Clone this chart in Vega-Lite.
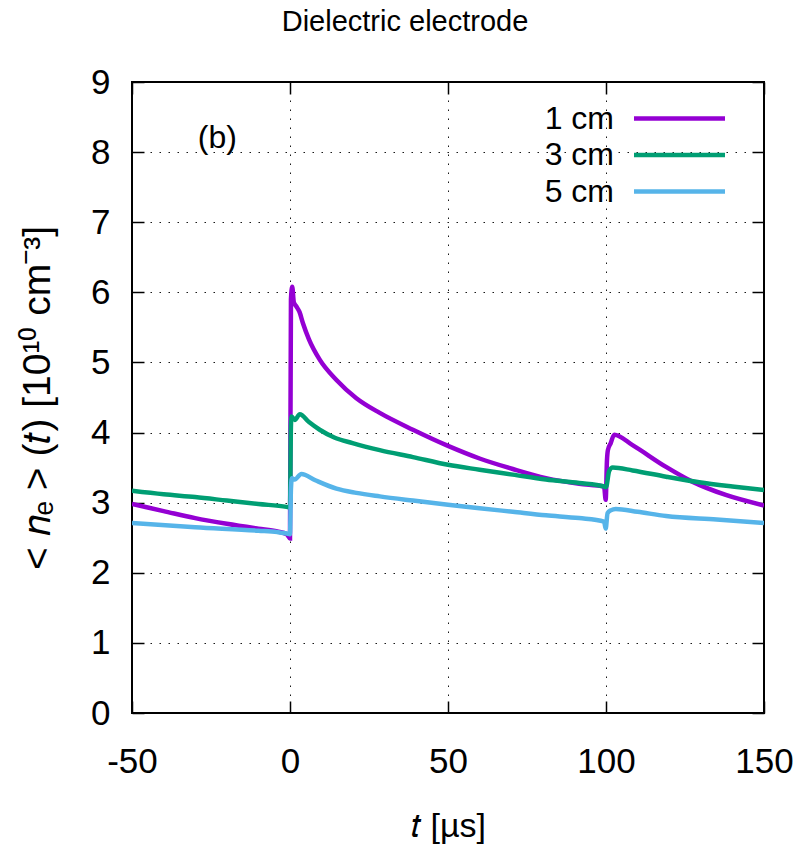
{
  "$schema": "https://vega.github.io/schema/vega-lite/v6.json",
  "width": 632,
  "height": 631,
  "autosize": {"type": "none"},
  "padding": {"left": 132, "top": 82, "right": 32, "bottom": 137},
  "background": "white",
  "title": {"text": "Dielectric electrode", "fontSize": 29, "font": "Liberation Sans", "fontWeight": "normal", "color": "black", "anchor": "middle", "frame": "group", "offset": 28, "dx": -43},
  "datasets": {
    "lines": [
      {"t": -50, "v": 2.98, "s": "1 cm"}, {"t": -40, "v": 2.88, "s": "1 cm"}, {"t": -30, "v": 2.78, "s": "1 cm"}, {"t": -20, "v": 2.70, "s": "1 cm"}, {"t": -10, "v": 2.63, "s": "1 cm"}, {"t": -4, "v": 2.59, "s": "1 cm"}, {"t": -1, "v": 2.55, "s": "1 cm"}, {"t": 0, "v": 2.49, "s": "1 cm"}, {"t": 0.3, "v": 5.9, "s": "1 cm"}, {"t": 0.7, "v": 6.08, "s": "1 cm"}, {"t": 1.2, "v": 5.86, "s": "1 cm"}, {"t": 2.0, "v": 5.80, "s": "1 cm"}, {"t": 3.0, "v": 5.72, "s": "1 cm"}, {"t": 4.1, "v": 5.56, "s": "1 cm"}, {"t": 6, "v": 5.33, "s": "1 cm"}, {"t": 9.4, "v": 5.04, "s": "1 cm"}, {"t": 14.7, "v": 4.75, "s": "1 cm"}, {"t": 21, "v": 4.49, "s": "1 cm"}, {"t": 28.4, "v": 4.28, "s": "1 cm"}, {"t": 38.9, "v": 4.04, "s": "1 cm"}, {"t": 50, "v": 3.81, "s": "1 cm"}, {"t": 60, "v": 3.63, "s": "1 cm"}, {"t": 70.5, "v": 3.48, "s": "1 cm"}, {"t": 81, "v": 3.35, "s": "1 cm"}, {"t": 91.5, "v": 3.27, "s": "1 cm"}, {"t": 99.4, "v": 3.23, "s": "1 cm"}, {"t": 99.9, "v": 3.04, "s": "1 cm"}, {"t": 100.3, "v": 3.6, "s": "1 cm"}, {"t": 100.6, "v": 3.75, "s": "1 cm"}, {"t": 101.5, "v": 3.85, "s": "1 cm"}, {"t": 102.6, "v": 3.97, "s": "1 cm"}, {"t": 108.4, "v": 3.82, "s": "1 cm"}, {"t": 119, "v": 3.51, "s": "1 cm"}, {"t": 127.3, "v": 3.30, "s": "1 cm"}, {"t": 137.9, "v": 3.11, "s": "1 cm"}, {"t": 150, "v": 2.96, "s": "1 cm"},
      {"t": -50, "v": 3.17, "s": "3 cm"}, {"t": -40, "v": 3.12, "s": "3 cm"}, {"t": -30, "v": 3.08, "s": "3 cm"}, {"t": -20, "v": 3.03, "s": "3 cm"}, {"t": -10, "v": 2.98, "s": "3 cm"}, {"t": -1.1, "v": 2.94, "s": "3 cm"}, {"t": 0, "v": 2.93, "s": "3 cm"}, {"t": 0.3, "v": 4.1, "s": "3 cm"}, {"t": 0.5, "v": 4.23, "s": "3 cm"}, {"t": 1.5, "v": 4.18, "s": "3 cm"}, {"t": 3.1, "v": 4.26, "s": "3 cm"}, {"t": 6, "v": 4.15, "s": "3 cm"}, {"t": 9.4, "v": 4.04, "s": "3 cm"}, {"t": 14, "v": 3.93, "s": "3 cm"}, {"t": 19.8, "v": 3.85, "s": "3 cm"}, {"t": 28.4, "v": 3.75, "s": "3 cm"}, {"t": 38.9, "v": 3.65, "s": "3 cm"}, {"t": 50, "v": 3.54, "s": "3 cm"}, {"t": 60, "v": 3.47, "s": "3 cm"}, {"t": 70.5, "v": 3.40, "s": "3 cm"}, {"t": 81, "v": 3.33, "s": "3 cm"}, {"t": 91.5, "v": 3.28, "s": "3 cm"}, {"t": 99.4, "v": 3.23, "s": "3 cm"}, {"t": 100, "v": 3.22, "s": "3 cm"}, {"t": 101, "v": 3.45, "s": "3 cm"}, {"t": 102.1, "v": 3.50, "s": "3 cm"}, {"t": 108.4, "v": 3.46, "s": "3 cm"}, {"t": 119, "v": 3.37, "s": "3 cm"}, {"t": 129.5, "v": 3.29, "s": "3 cm"}, {"t": 140, "v": 3.23, "s": "3 cm"}, {"t": 150, "v": 3.18, "s": "3 cm"},
      {"t": -50, "v": 2.71, "s": "5 cm"}, {"t": -30, "v": 2.65, "s": "5 cm"}, {"t": -10, "v": 2.60, "s": "5 cm"}, {"t": -4, "v": 2.58, "s": "5 cm"}, {"t": -1, "v": 2.56, "s": "5 cm"}, {"t": 0, "v": 2.55, "s": "5 cm"}, {"t": 0.3, "v": 3.2, "s": "5 cm"}, {"t": 0.6, "v": 3.35, "s": "5 cm"}, {"t": 1.5, "v": 3.33, "s": "5 cm"}, {"t": 3.6, "v": 3.41, "s": "5 cm"}, {"t": 8, "v": 3.32, "s": "5 cm"}, {"t": 14.7, "v": 3.20, "s": "5 cm"}, {"t": 21, "v": 3.14, "s": "5 cm"}, {"t": 28.4, "v": 3.09, "s": "5 cm"}, {"t": 38.9, "v": 3.03, "s": "5 cm"}, {"t": 50, "v": 2.97, "s": "5 cm"}, {"t": 60, "v": 2.92, "s": "5 cm"}, {"t": 70.5, "v": 2.87, "s": "5 cm"}, {"t": 81, "v": 2.82, "s": "5 cm"}, {"t": 91.5, "v": 2.78, "s": "5 cm"}, {"t": 99.4, "v": 2.73, "s": "5 cm"}, {"t": 99.9, "v": 2.63, "s": "5 cm"}, {"t": 100.5, "v": 2.85, "s": "5 cm"}, {"t": 101.5, "v": 2.89, "s": "5 cm"}, {"t": 103.1, "v": 2.91, "s": "5 cm"}, {"t": 110, "v": 2.87, "s": "5 cm"}, {"t": 119, "v": 2.81, "s": "5 cm"}, {"t": 135, "v": 2.76, "s": "5 cm"}, {"t": 150, "v": 2.71, "s": "5 cm"}
    ]
  },
  "layer": [
    {
      "data": {"name": "lines"},
      "mark": {"type": "line", "strokeWidth": 4.5, "clip": true, "interpolate": "monotone"},
      "encoding": {
        "x": {"field": "t", "type": "quantitative", "scale": {"domain": [-50, 150], "nice": false},
          "axis": {"orient": "bottom", "values": [-50, 0, 50, 100, 150], "labelExpr": "'' + datum.value", "labelFlush": false, "title": "𝑡 [µs]", "grid": true, "tickSize": -12, "labelPadding": 43, "titlePadding": 30, "titleFontSize": 34}},
        "y": {"field": "v", "type": "quantitative", "scale": {"domain": [0, 9], "nice": false},
          "axis": {"orient": "left", "values": [0, 1, 2, 3, 4, 5, 6, 7, 8, 9], "title": "< 𝑛ₑ > (𝑡) [10¹⁰ cm⁻³]", "grid": true, "tickSize": -12, "labelPadding": 34, "titlePadding": 33, "titleFontSize": 39}},
        "color": {"field": "s", "type": "nominal", "scale": {"domain": ["1 cm", "3 cm", "5 cm"], "range": ["#9400d3", "#009e73", "#56b4e9"]},
          "legend": {"orient": "none", "legendX": 530, "legendY": 19, "title": null, "symbolType": "M-3,0H3", "symbolStrokeWidth": 4.5, "symbolSize": 920, "labelAlign": "right", "labelOffset": -83, "labelFontSize": 32, "labelFont": "Liberation Sans", "labelColor": "black", "rowPadding": 2.5}},
        "order": {"field": "t", "type": "quantitative"}
      }
    },
    {
      "data": {"name": "lines"},
      "mark": {"type": "line", "opacity": 0},
      "encoding": {
        "x": {"field": "t", "type": "quantitative", "axis": {"orient": "top", "values": [-50, 0, 50, 100, 150], "labels": false, "title": null, "grid": false, "tickSize": -12}},
        "y": {"field": "v", "type": "quantitative", "axis": {"orient": "right", "values": [0, 1, 2, 3, 4, 5, 6, 7, 8, 9], "labels": false, "title": null, "grid": false, "tickSize": -12}}
      }
    },
    {
      "data": {"values": [{"label": "(b)"}]},
      "mark": {"type": "text", "fontSize": 32, "font": "Liberation Sans", "color": "black"},
      "encoding": {
        "x": {"datum": -23, "axis": null},
        "y": {"datum": 8.2, "axis": null},
        "text": {"field": "label"}
      }
    }
  ],
  "resolve": {"axis": {"x": "independent", "y": "independent"}},
  "config": {
    "view": {"stroke": "black", "strokeWidth": 2},
    "axis": {"labelFont": "Liberation Sans", "labelFontSize": 35, "labelColor": "black", "titleFont": "Liberation Sans", "titleFontSize": 30, "titleFontWeight": "normal", "titleColor": "black", "domain": false, "tickColor": "black", "tickWidth": 1.5, "gridColor": "black", "gridDash": [1.5, 7.5], "gridWidth": 1, "gridOpacity": 0.9}
  }
}
